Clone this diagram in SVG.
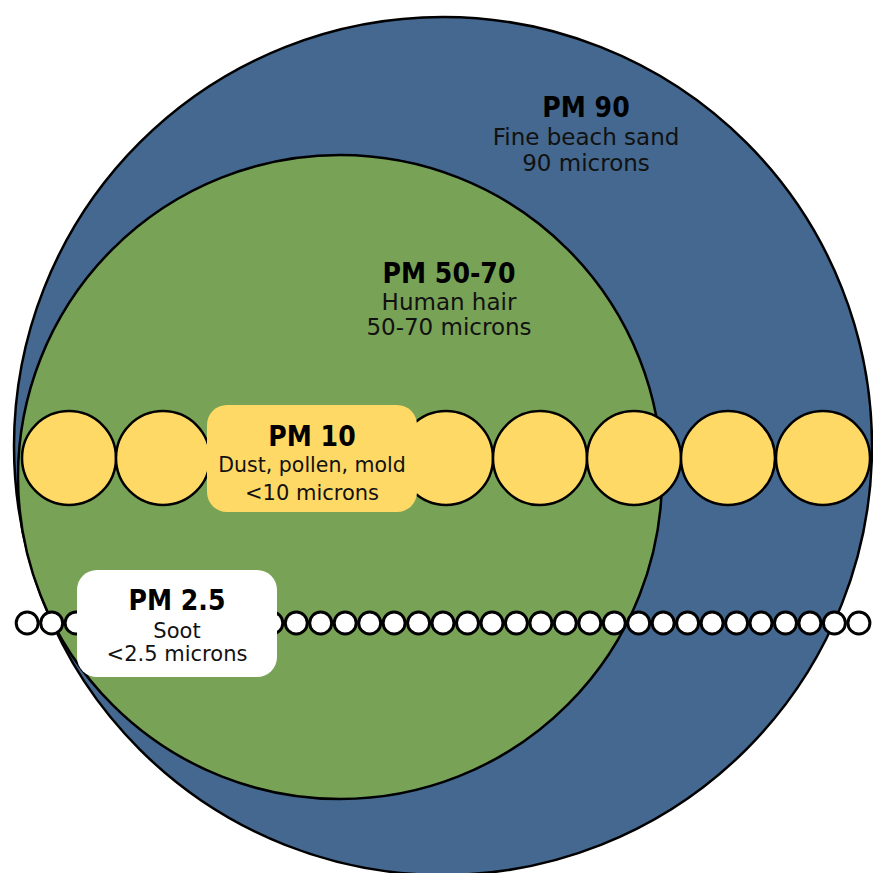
<svg xmlns="http://www.w3.org/2000/svg" width="873" height="873" viewBox="0 0 873 873">
<defs>
<style>
.big{stroke:#000;stroke-width:2.5}
.yc{fill:#FFD966;stroke:#000;stroke-width:2.5}
.wc{fill:#fff;stroke:#000;stroke-width:3}
.h{font-family:"DejaVu Sans Condensed","DejaVu Sans",sans-serif;font-weight:bold;fill:#000;text-anchor:middle}
.s{font-family:"DejaVu Sans",sans-serif;fill:#111;text-anchor:middle}
</style>
</defs>
<rect width="873" height="873" fill="#fff"/>
<g id="pm90">
<circle class="big" cx="443" cy="446" r="429" fill="#44688F"/>
<text class="h" x="586" y="117" font-size="28">PM 90</text>
<text class="s" x="586" y="145" font-size="23">Fine beach sand</text>
<text class="s" x="586" y="171" font-size="23">90 microns</text>
</g>
<g id="pm50-70">
<circle class="big" cx="340" cy="477" r="322" fill="#78A256"/>
<text class="h" x="449" y="283" font-size="28">PM 50-70</text>
<text class="s" x="449" y="310" font-size="23">Human hair</text>
<text class="s" x="449" y="335" font-size="23">50-70 microns</text>
</g>
<g id="pm10">
<circle class="yc" cx="69" cy="458" r="47"/>
<circle class="yc" cx="163" cy="458" r="47"/>
<circle class="yc" cx="258" cy="458" r="47"/>
<circle class="yc" cx="352" cy="458" r="47"/>
<circle class="yc" cx="446" cy="458" r="47"/>
<circle class="yc" cx="540" cy="458" r="47"/>
<circle class="yc" cx="634" cy="458" r="47"/>
<circle class="yc" cx="728" cy="458" r="47"/>
<circle class="yc" cx="823" cy="458" r="47"/>
<rect x="207" y="405" width="210" height="107" rx="20" fill="#FFD966"/>
<text class="h" x="312" y="446" font-size="28">PM 10</text>
<text class="s" x="312" y="472" font-size="20.5">Dust, pollen, mold</text>
<text class="s" x="312" y="500" font-size="21">&lt;10 microns</text>
</g>
<g id="pm2-5">
<g id="soot-row">
<circle class="wc" cx="27.2" cy="623" r="11"/>
<circle class="wc" cx="51.7" cy="623" r="11"/>
<circle class="wc" cx="76.1" cy="623" r="11"/>
<circle class="wc" cx="100.6" cy="623" r="11"/>
<circle class="wc" cx="125.1" cy="623" r="11"/>
<circle class="wc" cx="149.5" cy="623" r="11"/>
<circle class="wc" cx="174.0" cy="623" r="11"/>
<circle class="wc" cx="198.4" cy="623" r="11"/>
<circle class="wc" cx="222.9" cy="623" r="11"/>
<circle class="wc" cx="247.4" cy="623" r="11"/>
<circle class="wc" cx="271.8" cy="623" r="11"/>
<circle class="wc" cx="296.3" cy="623" r="11"/>
<circle class="wc" cx="320.7" cy="623" r="11"/>
<circle class="wc" cx="345.2" cy="623" r="11"/>
<circle class="wc" cx="369.7" cy="623" r="11"/>
<circle class="wc" cx="394.1" cy="623" r="11"/>
<circle class="wc" cx="418.6" cy="623" r="11"/>
<circle class="wc" cx="443.0" cy="623" r="11"/>
<circle class="wc" cx="467.5" cy="623" r="11"/>
<circle class="wc" cx="492.0" cy="623" r="11"/>
<circle class="wc" cx="516.4" cy="623" r="11"/>
<circle class="wc" cx="540.9" cy="623" r="11"/>
<circle class="wc" cx="565.3" cy="623" r="11"/>
<circle class="wc" cx="589.8" cy="623" r="11"/>
<circle class="wc" cx="614.3" cy="623" r="11"/>
<circle class="wc" cx="638.7" cy="623" r="11"/>
<circle class="wc" cx="663.2" cy="623" r="11"/>
<circle class="wc" cx="687.6" cy="623" r="11"/>
<circle class="wc" cx="712.1" cy="623" r="11"/>
<circle class="wc" cx="736.6" cy="623" r="11"/>
<circle class="wc" cx="761.0" cy="623" r="11"/>
<circle class="wc" cx="785.5" cy="623" r="11"/>
<circle class="wc" cx="809.9" cy="623" r="11"/>
<circle class="wc" cx="834.4" cy="623" r="11"/>
<circle class="wc" cx="858.9" cy="623" r="11"/>
</g>
<rect x="77" y="570" width="200" height="107" rx="20" fill="#fff"/>
<text class="h" x="177" y="610" font-size="28">PM 2.5</text>
<text class="s" x="177" y="638" font-size="21">Soot</text>
<text class="s" x="177" y="661" font-size="21">&lt;2.5 microns</text>
</g>
</svg>
